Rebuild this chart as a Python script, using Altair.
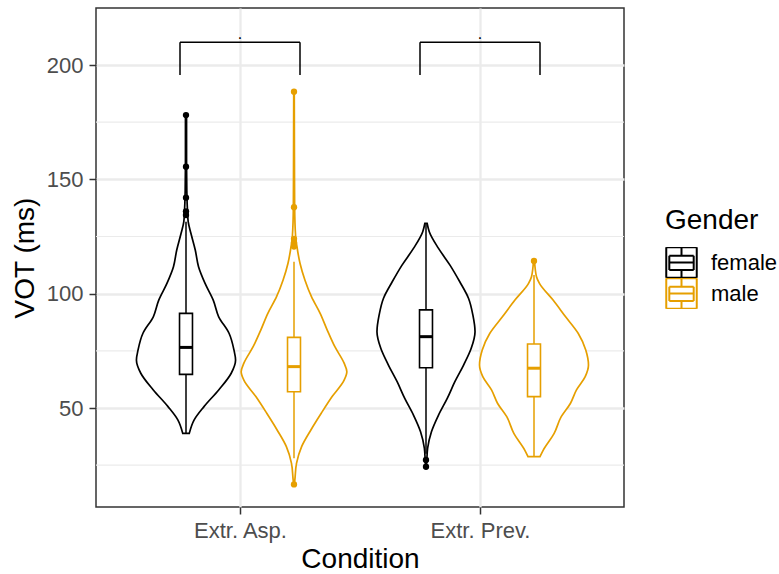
import altair as alt
import pandas as pd

conditions = ["Extr. Asp.", "Extr. Prev."]
genders = ["female", "male"]
gender_colors = ["#000000", "#E69F00"]

# Violin outlines: VOT (ms) levels and relative kernel density at each level
asp_female_vot = [178.1, 160.0, 145.0, 135.0, 131.5, 126.4, 119.1, 111.8, 104.5, 97.2,
                  89.9, 82.7, 75.4, 71.0, 65.2, 57.9, 50.6, 44.8, 38.9]
asp_female_density = [0.01, 0.01, 0.015, 0.03, 0.04, 0.09, 0.17, 0.23, 0.35, 0.50,
                      0.60, 0.79, 0.88, 0.91, 0.83, 0.60, 0.33, 0.15, 0.06]

asp_male_vot = [188.3, 160.0, 137.8, 125.0, 120.5, 113.3, 106.0, 98.7, 91.4, 84.1, 76.8,
                69.6, 65.9, 62.2, 55.0, 47.7, 40.4, 33.1, 25.8, 18.5, 16.6]
asp_male_density = [0.005, 0.008, 0.012, 0.03, 0.055, 0.11, 0.20, 0.32, 0.48, 0.61, 0.75,
                    0.92, 0.97, 0.92, 0.70, 0.50, 0.31, 0.14, 0.046, 0.015, 0.005]

prev_female_vot = [130.8, 127.1, 119.8, 112.5, 105.2, 98.0, 90.7, 83.4, 76.1, 68.8,
                   61.5, 54.2, 46.9, 39.6, 32.4, 26.5, 24.3]
prev_female_density = [0.02, 0.06, 0.23, 0.44, 0.62, 0.78, 0.86, 0.90, 0.83, 0.69,
                       0.53, 0.39, 0.23, 0.10, 0.03, 0.013, 0.005]

prev_male_vot = [114.3, 107.4, 104.5, 97.2, 89.9, 82.7, 75.4, 68.8, 63.7, 57.9,
                 52.1, 46.2, 38.9, 31.6, 28.7]
prev_male_density = [0.01, 0.046, 0.10, 0.35, 0.58, 0.81, 0.95, 1.00, 0.94, 0.78,
                     0.67, 0.50, 0.37, 0.17, 0.11]

# Boxplot summaries, one entry per condition x gender
box_condition = ["Extr. Asp.", "Extr. Asp.", "Extr. Prev.", "Extr. Prev."]
box_gender = ["female", "male", "female", "male"]
box_lower = [38.9, 28.0, 30.0, 28.7]
box_q1 = [64.7, 57.1, 67.6, 55.0]
box_median = [76.5, 68.1, 81.2, 67.4]
box_q3 = [91.4, 80.9, 92.9, 78.0]
box_upper = [131.5, 114.0, 130.8, 108.2]

# Outlying observations
outlier_condition = ["Extr. Asp."] * 11 + ["Extr. Prev."] * 3
outlier_gender = ["female"] * 5 + ["male"] * 6 + ["female"] * 2 + ["male"]
outlier_vot = [178.1, 155.5, 142.0, 136.0, 134.4,
               188.3, 137.8, 124.0, 122.3, 120.6, 16.6,
               27.3, 24.3,
               114.3]

# Significance comparisons (female vs male within each condition)
bracket_condition = ["Extr. Asp.", "Extr. Prev."]
bracket_top = [210.0, 210.0]
bracket_tip = [195.6, 195.6]
bracket_label = [".", "."]

minor_breaks = [25, 75, 125, 175]
major_breaks = [50, 100, 150, 200]

# Layout constants (x axis units: one unit per condition)
DODGE = 0.225
VIOLIN_SCALE = 0.227
BOX_HALF = 0.027
BRACKET_HALF = 0.25
PLOT_W, PLOT_H = 528, 499


def center(cond, gender):
    return conditions.index(cond) + 1 + (-DODGE if gender == genders[0] else DODGE)


violin_rows = []
for cond, gender, vots, dens in [
    (conditions[0], genders[0], asp_female_vot, asp_female_density),
    (conditions[0], genders[1], asp_male_vot, asp_male_density),
    (conditions[1], genders[0], prev_female_vot, prev_female_density),
    (conditions[1], genders[1], prev_male_vot, prev_male_density),
]:
    for v, d in zip(vots, dens):
        violin_rows.append({"condition": cond, "gender": gender, "vot": v,
                            "density": d, "center": center(cond, gender)})
violins = pd.DataFrame(violin_rows)

boxes = pd.DataFrame({
    "condition": box_condition, "gender": box_gender,
    "lower": box_lower, "q1": box_q1, "median": box_median,
    "q3": box_q3, "upper": box_upper,
})
boxes["center"] = [center(c, g) for c, g in zip(box_condition, box_gender)]

whisker_rows = []
for _, r in boxes.iterrows():
    whisker_rows.append({"gender": r.gender, "center": r.center, "a": r.q3, "b": r.upper})
    whisker_rows.append({"gender": r.gender, "center": r.center, "a": r.lower, "b": r.q1})
whiskers = pd.DataFrame(whisker_rows)

outliers = pd.DataFrame({"condition": outlier_condition, "gender": outlier_gender,
                         "vot": outlier_vot})
outliers["center"] = [center(c, g) for c, g in zip(outlier_condition, outlier_gender)]

seg_rows, label_rows = [], []
for cond, top, tip, lab in zip(bracket_condition, bracket_top, bracket_tip, bracket_label):
    mid = conditions.index(cond) + 1
    lo, hi = mid - BRACKET_HALF, mid + BRACKET_HALF
    seg_rows += [
        {"x": lo, "x2": lo, "y": tip, "y2": top},
        {"x": lo, "x2": hi, "y": top, "y2": top},
        {"x": hi, "x2": hi, "y": tip, "y2": top},
    ]
    label_rows.append({"x": mid, "y": top, "label": lab})
segments = pd.DataFrame(seg_rows)
labels = pd.DataFrame(label_rows)

x_scale = alt.Scale(domain=[0.4, 2.6], nice=False, zero=False)
y_scale = alt.Scale(domain=[6.71, 224.93], nice=False, zero=False)
color_scale = alt.Scale(domain=genders, range=gender_colors)

label_expr = "[" + ", ".join(f"'{c}'" for c in conditions) + "][datum.value - 1]"

axis_common = dict(
    domain=False, grid=True, gridColor="#EBEBEB", gridWidth=2.3,
    tickColor="#333333", tickSize=7, tickWidth=1.5,
    labelFontSize=22, labelColor="#4D4D4D", labelPadding=6,
    titleFontSize=28, titleFontWeight="normal", titleColor="black",
    labelOverlap=False, labelFlush=False,
)
x_axis = alt.Axis(values=[1, 2], labelExpr=label_expr, title="Condition",
                  titlePadding=4, **axis_common)
y_axis = alt.Axis(values=major_breaks, title="VOT (ms)", titlePadding=7, **axis_common)


def xenc(field):
    return alt.X(field, scale=x_scale, axis=x_axis)


def yenc(field):
    return alt.Y(field, scale=y_scale, axis=y_axis)


# Legend key: violin outline with a boxplot glyph inside, built only from
# open line segments so that the key is drawn as strokes
key_segments = [
    "M-1,-1L1,-1", "M1,-1L1,1", "M1,1L-1,1", "M-1,1L-1,-1",          # violin outline
    "M-0.8,-0.45L0.8,-0.45", "M0.8,-0.45L0.8,0.5",                  # box
    "M0.8,0.5L-0.8,0.5", "M-0.8,0.5L-0.8,-0.45",
    "M-0.8,0L0.8,0",                                                # median
    "M0,-1L0,-0.45", "M0,0.5L0,1",                                  # whiskers
]
key_path = " ".join(key_segments)
legend = alt.Legend(
    title="Gender", orient="none", legendX=569, legendY=199,
    symbolType=key_path, symbolSize=930, symbolStrokeWidth=2,
    labelFontSize=22, labelColor="black", labelOffset=13,
    titleFontSize=28, titleFontWeight="normal", titleColor="black",
    titlePadding=12, rowPadding=0, padding=0, clipHeight=31,
)

minor = alt.Chart(pd.DataFrame({"vot": minor_breaks})).mark_rule(
    color="#EBEBEB", strokeWidth=1.2
).encode(
    y=yenc("vot:Q"),
    x=alt.value(0), x2=alt.value(PLOT_W),
)

violin_base = alt.Chart(violins).transform_calculate(
    xl=f"datum.center - datum.density * {VIOLIN_SCALE}",
    xr=f"datum.center + datum.density * {VIOLIN_SCALE}",
)

# white body of each violin, covering the grid
violin_fill = violin_base.mark_area(
    orient="horizontal", color="white", interpolate="monotone", opacity=1
).encode(
    y=yenc("vot:Q"), x=xenc("xl:Q"), x2="xr:Q",
    detail="gender:N", order=alt.Order("condition:N"),
)

# coloured outline of each violin
violin_line = violin_base.mark_area(
    orient="horizontal", filled=False, strokeWidth=1.7, interpolate="monotone"
).encode(
    y=yenc("vot:Q"), x=xenc("xl:Q"), x2="xr:Q",
    stroke=alt.Stroke("gender:N", scale=color_scale, legend=legend),
    detail="condition:N",
)

whisker = alt.Chart(whiskers).mark_rule(strokeWidth=1.5).encode(
    x=xenc("center:Q"),
    y=yenc("a:Q"), y2="b:Q",
    color=alt.Color("gender:N", scale=color_scale, legend=None),
)

box = alt.Chart(boxes).transform_calculate(
    bl=f"datum.center - {BOX_HALF}", br=f"datum.center + {BOX_HALF}"
).mark_rect(fill="white", strokeWidth=1.6).encode(
    x=xenc("bl:Q"), x2="br:Q",
    y=yenc("q1:Q"), y2="q3:Q",
    stroke=alt.Stroke("gender:N", scale=color_scale, legend=None),
)

median = alt.Chart(boxes).transform_calculate(
    bl=f"datum.center - {BOX_HALF}", br=f"datum.center + {BOX_HALF}"
).mark_rule(strokeWidth=3).encode(
    x=xenc("bl:Q"), x2="br:Q",
    y=yenc("median:Q"),
    color=alt.Color("gender:N", scale=color_scale, legend=None),
)

points = alt.Chart(outliers).mark_circle(size=40, opacity=1).encode(
    x=xenc("center:Q"),
    y=yenc("vot:Q"),
    color=alt.Color("gender:N", scale=color_scale, legend=None),
)

brackets = alt.Chart(segments).mark_rule(color="black", strokeWidth=1.5).encode(
    x=xenc("x:Q"), x2="x2:Q",
    y=yenc("y:Q"), y2="y2:Q",
)

bracket_text = alt.Chart(labels).mark_text(
    fontSize=16, baseline="alphabetic", dy=-3, fill="black"
).encode(
    x=xenc("x:Q"),
    y=yenc("y:Q"),
    text="label:N",
)

chart = alt.layer(
    minor, violin_fill, violin_line, whisker, box, median, points, brackets, bracket_text
).properties(
    width=PLOT_W, height=PLOT_H,
    padding={"left": 96, "top": 8, "right": 779 - 96 - PLOT_W, "bottom": 574 - 8 - PLOT_H},
    autosize=alt.AutoSizeParams(type="none"),
).configure(
    font="Liberation Sans",
).configure_view(
    stroke="#333333", strokeWidth=1.5,
)

chart.save("out.html", embed_options={"renderer": "svg", "actions": False})
